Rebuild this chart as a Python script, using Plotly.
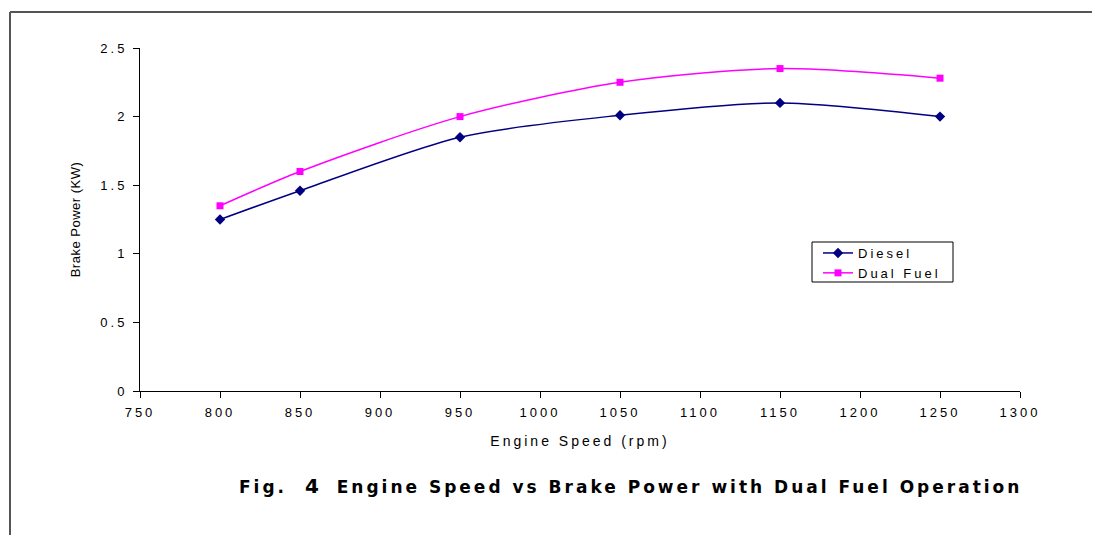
import plotly.graph_objects as go

engine_speed = [800, 850, 950, 1050, 1150, 1250]
diesel_power = [1.25, 1.46, 1.85, 2.01, 2.10, 2.00]
dual_fuel_power = [1.35, 1.60, 2.00, 2.25, 2.35, 2.28]

x_ticks = [750, 800, 850, 900, 950, 1000, 1050, 1100, 1150, 1200, 1250, 1300]
y_ticks = [0, 0.5, 1, 1.5, 2, 2.5]

FONT = "Liberation Sans, Arial, sans-serif"


def spaced(s, px):
    return f"<span style='letter-spacing:{px}px'>{s}</span>"


def px_x(sx):
    return (sx - 140) / 880


def px_y(sy):
    return (391 - sy) / 343


fig = go.Figure()
fig.add_trace(go.Scatter(
    x=engine_speed, y=diesel_power, name=spaced("Diesel", 3), mode="lines+markers",
    line=dict(color="#000080", width=1.5, shape="spline", smoothing=0.8),
    marker=dict(symbol="diamond", size=8, color="#000080"),
))
fig.add_trace(go.Scatter(
    x=engine_speed, y=dual_fuel_power, name=spaced("Dual Fuel", 3), mode="lines+markers",
    line=dict(color="#FF00FF", width=1.5, shape="spline", smoothing=0.8),
    marker=dict(symbol="square", size=7, color="#FF00FF"),
))

axis_common = dict(showgrid=False, zeroline=False, showline=True, linecolor="black",
                   linewidth=1, ticks="outside", ticklen=6, tickcolor="black",
                   tickfont=dict(family=FONT, size=13, color="black"))

fig.update_xaxes(range=[750, 1300], tickvals=x_ticks,
                 ticktext=[spaced(str(v), 3) for v in x_ticks],
                 ticklabelstandoff=3,
                 title=dict(text=spaced("Engine Speed (rpm)", 3),
                            font=dict(family=FONT, size=14, color="black"), standoff=17),
                 **axis_common)
fig.update_yaxes(range=[0, 2.5], tickvals=y_ticks,
                 ticktext=[spaced(f"{v:g}", 3) for v in y_ticks],
                 ticklabelstandoff=3,
                 title=dict(text=spaced("Brake Power (KW)", 0.5),
                            font=dict(family=FONT, size=13, color="black"), standoff=16),
                 **axis_common)

fig.update_layout(
    width=1100, height=535,
    margin=dict(l=132, r=88, t=40, b=152),
    paper_bgcolor="white", plot_bgcolor="white",
    font=dict(family=FONT, size=13, color="black"),
    showlegend=True,
    legend=dict(x=px_x(818), y=px_y(238), xanchor="left", yanchor="top",
                borderwidth=0, bgcolor="rgba(0,0,0,0)",
                font=dict(family=FONT, size=13, color="black"),
                tracegroupgap=0, itemwidth=30),
    annotations=[dict(
        text="<b>" + spaced("Fig.&nbsp;&nbsp;", 3) + "<span style='font-size:20px'>4</span>"
             + spaced("&nbsp;&nbsp;Engine Speed vs Brake Power with Dual Fuel Operation", 3) + "</b>",
        xref="paper", yref="paper", x=px_x(630), y=px_y(486),
        xanchor="center", yanchor="middle", showarrow=False,
        font=dict(family="DejaVu Sans, sans-serif", size=17, color="black"),
    )],
    shapes=[
        dict(type="line", xref="paper", yref="paper",
             x0=px_x(10), x1=px_x(1100), y0=px_y(12), y1=px_y(12),
             line=dict(color="#555555", width=2)),
        dict(type="line", xref="paper", yref="paper",
             x0=px_x(10), x1=px_x(10), y0=px_y(12), y1=px_y(540),
             line=dict(color="#555555", width=2)),
        dict(type="rect", xref="paper", yref="paper",
             x0=px_x(812), x1=px_x(953), y0=px_y(242), y1=px_y(282),
             line=dict(color="black", width=1), fillcolor="rgba(0,0,0,0)", layer="above"),
    ],
)

fig.write_html("out.html")
